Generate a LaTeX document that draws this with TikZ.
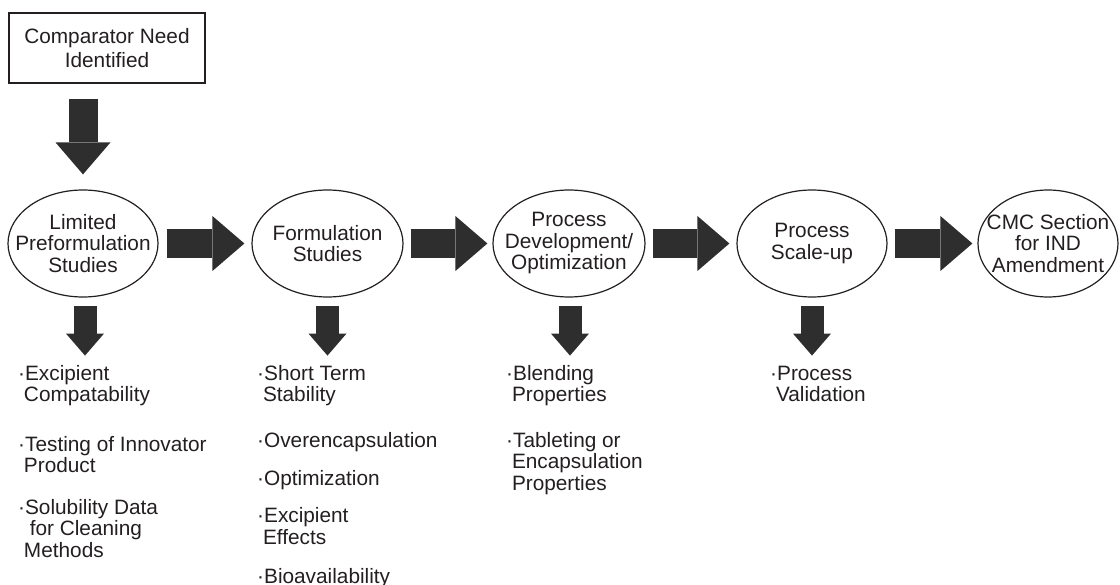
\documentclass[tikz,border=0pt]{standalone}
\usepackage{fontspec}
\setmainfont{Liberation Sans}
\usetikzlibrary{shapes.geometric,arrows.meta,calc}
\definecolor{ink}{HTML}{231F20}
\definecolor{arrowc}{HTML}{2E2E2E}
\newcommand{\hng}{\hspace*{5.8pt}}
\begin{document}
\begin{tikzpicture}[x=1pt,y=-1pt,
  every node/.style={text=ink, font=\fontsize{20.8}{21.5}\selectfont},
  startbox/.style={draw=ink, line width=1.2pt, minimum width=196pt, minimum height=70pt, inner sep=0pt, align=center, font=\fontsize{20.8}{24.5}\selectfont},
  stage/.style={draw=ink, line width=1.2pt, ellipse, minimum height=107pt, inner sep=0pt},
  stagetext/.style={align=center, inner sep=0pt},
  itemlist/.style={align=left, anchor=base west, inner sep=0pt},
  fat/.style={draw=arrowc, line width=29pt, -{Triangle[length=32pt,width=55pt,line width=0pt]}},
  slim/.style={draw=arrowc, line width=23pt, -{Triangle[length=22pt,width=38pt,line width=0pt]}},
]
\useasboundingbox (0,0) rectangle (1120,585);

% start box
\node[startbox] (need) at (107,48) {Comparator Need\\Identified};

% stages
\node[stage, minimum width=150pt] (e1) at (83,243.5) {};
\node[stage, minimum width=151pt] (e2) at (327.5,243.5) {};
\node[stage, minimum width=152pt] (e3) at (569,243.5) {};
\node[stage, minimum width=150pt] (e4) at (812,243.5) {};
\node[stage, minimum width=140pt] (e5) at (1048,243.5) {};

\node[stagetext] (t1) at (e1) {Limited\\Preformulation\\Studies};
\node[stagetext] (t2) at (e2) {Formulation\\Studies};
\node[stagetext] (t3) at (e3) {Process\\Development/\\Optimization};
\node[stagetext] (t4) at (e4) {Process\\Scale-up};
\node[stagetext] (t5) at (e5) {CMC Section\\for IND\\Amendment};

% fat arrows
\draw[fat, shorten <=15pt, shorten >=15pt] (need.south -| e1.north) -- (e1.north);
\draw[fat, shorten <=8pt, shorten >=7pt] (e1.east) -- (e2.west);
\draw[fat, shorten <=7pt, shorten >=5pt] (e2.east) -- (e3.west);
\draw[fat, shorten <=7pt, shorten >=7pt] (e3.east) -- (e4.west);
\draw[fat, shorten <=7pt, shorten >=5pt] (e4.east) -- (e5.west);

% down arrows to lists
\path (e1.south) ++(2,58) coordinate (d1);
\path (e2.south) ++(0,58) coordinate (d2);
\path (e3.south) ++(1,58) coordinate (d3);
\path (e4.south) ++(0,58) coordinate (d4);
\draw[slim, shorten <=8pt] (e1.south -| d1) -- (d1);
\draw[slim, shorten <=8pt] (e2.south -| d2) -- (d2);
\draw[slim, shorten <=8pt] (e3.south -| d3) -- (d3);
\draw[slim, shorten <=8pt] (e4.south -| d4) -- (d4);

% lists (anchor = baseline of last line)
\node[itemlist] (a1) at (18,402) {·Excipient\\\hng Compatability};
\node[itemlist] (a2) at (18,472.5) {·Testing of Innovator\\\hng Product};
\node[itemlist] (a3) at (18,557) {·Solubility Data\\\hng\ for Cleaning\\\hng Methods};

\node[itemlist] (b1) at (257,402) {·Short Term\\\hng Stability};
\node[itemlist] (b2) at (257,447) {·Overencapsulation};
\node[itemlist] (b3) at (257,485) {·Optimization};
\node[itemlist] (b4) at (257,544) {·Excipient\\\hng Effects};
\node[itemlist] (b5) at (257,583) {·Bioavailability};

\node[itemlist] (c1) at (506,402) {·Blending\\\hng Properties};
\node[itemlist] (c2) at (506,490) {·Tableting or\\\hng Encapsulation\\\hng Properties};

\node[itemlist] (f1) at (770,402) {·Process\\\hng Validation};
\end{tikzpicture}
\end{document}
